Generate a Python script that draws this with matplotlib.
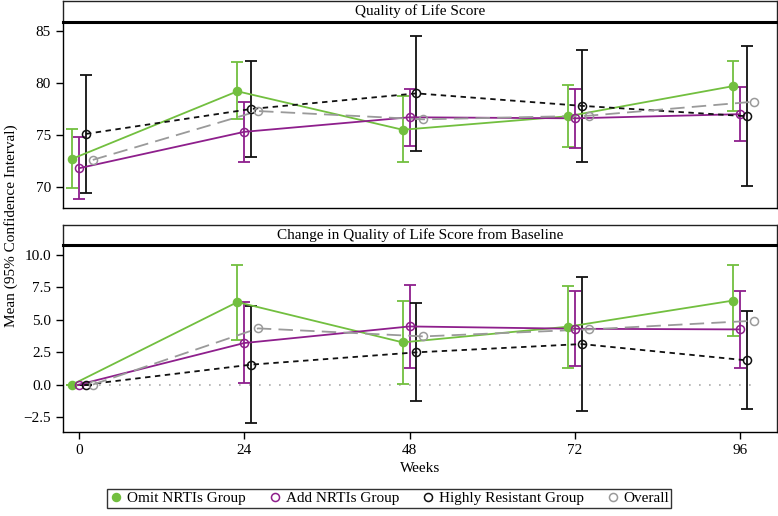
import numpy as np
import matplotlib.pyplot as plt
from matplotlib.lines import Line2D

plt.rcParams['font.family'] = ['Liberation Serif', 'DejaVu Serif']

weeks = [0, 24, 48, 72, 96]
groups = ['Omit NRTIs Group', 'Add NRTIs Group', 'Highly Resistant Group', 'Overall']

# Quality of Life Score: mean, lower CI, upper CI
qol_omit = [72.7, 79.2, 75.5, 76.8, 79.7]
qol_omit_lo = [69.9, 76.5, 72.4, 73.8, 77.3]
qol_omit_hi = [75.6, 82.0, 78.7, 79.8, 82.1]

qol_add = [71.8, 75.3, 76.7, 76.6, 77.0]
qol_add_lo = [68.8, 72.4, 73.9, 73.7, 74.4]
qol_add_hi = [74.8, 78.2, 79.4, 79.4, 79.6]

qol_hr = [75.1, 77.5, 79.0, 77.8, 76.8]
qol_hr_lo = [69.4, 72.9, 73.5, 72.4, 70.1]
qol_hr_hi = [80.8, 82.1, 84.5, 83.2, 83.6]

qol_all = [72.6, 77.3, 76.5, 76.85, 78.2]

# Change from baseline
chg_omit = [0.0, 6.37, 3.26, 4.47, 6.49]
chg_omit_lo = [0.0, 3.44, 0.05, 1.31, 3.72]
chg_omit_hi = [0.0, 9.26, 6.49, 7.62, 9.24]

chg_add = [0.0, 3.21, 4.49, 4.31, 4.26]
chg_add_lo = [0.0, 0.13, 1.26, 1.41, 1.31]
chg_add_hi = [0.0, 6.34, 7.70, 7.24, 7.21]

chg_hr = [0.0, 1.54, 2.49, 3.13, 1.87]
chg_hr_lo = [0.0, -2.95, -1.28, -2.03, -1.92]
chg_hr_hi = [0.0, 6.10, 6.31, 8.29, 5.67]

chg_all = [0.0, 4.34, 3.72, 4.26, 4.93]

green = '#72BF3F'
purple = '#8E1F8C'
black = '#111111'
grey = '#9A9A9A'

fig = plt.figure(figsize=(7.78, 5.16), dpi=100)
left, width = 0.0806, 0.9185
ax1 = fig.add_axes([left, 0.5975, width, 0.3605])
s1 = fig.add_axes([left, 0.958, width, 0.040])
ax2 = fig.add_axes([left, 0.1628, width, 0.3622])
s2 = fig.add_axes([left, 0.525, width, 0.039])

for s, title in [(s1, 'Quality of Life Score'),
                 (s2, 'Change in Quality of Life Score from Baseline')]:
    s.set_xticks([])
    s.set_yticks([])
    for sp in s.spines.values():
        sp.set_color('#222222')
        sp.set_linewidth(1.0)
    s.spines['bottom'].set_linewidth(2.2)
    s.spines['bottom'].set_color('black')
    s.text(0.5, 0.5, title, ha='center', va='center', fontsize=11,
           transform=s.transAxes)


def draw(ax, series):
    w = np.array(weeks, dtype=float)
    for off, m, lo, hi, color, ls, mfc in series:
        x = w + off
        ax.plot(x, m, color=color, ls=ls, lw=1.3, zorder=3)
        if lo is not None:
            yerr = [np.array(m) - np.array(lo), np.array(hi) - np.array(m)]
            ax.errorbar(x, m, yerr=yerr, fmt='none', ecolor=color,
                        elinewidth=1.3, capsize=4, capthick=1.3, zorder=2)
        ax.plot(x, m, ls='none', marker='o', ms=5.8, mfc=mfc,
                mec=color, mew=1.1, zorder=4)


ax1_series = [
    (-1, qol_omit, qol_omit_lo, qol_omit_hi, green, '-', green),
    (0, qol_add, qol_add_lo, qol_add_hi, purple, '-', 'none'),
    (1, qol_hr, qol_hr_lo, qol_hr_hi, black, (0, (3, 2.5)), 'none'),
    (2, qol_all, None, None, grey, (0, (8, 4)), 'none'),
]
ax2_series = [
    (-1, chg_omit, chg_omit_lo, chg_omit_hi, green, '-', green),
    (0, chg_add, chg_add_lo, chg_add_hi, purple, '-', 'none'),
    (1, chg_hr, chg_hr_lo, chg_hr_hi, black, (0, (3, 2.5)), 'none'),
    (2, chg_all, None, None, grey, (0, (8, 4)), 'none'),
]

ax2.plot([0, 98], [0, 0], color='#AAAAAA', ls=(0, (1, 5)), lw=1.2, zorder=1)
draw(ax1, ax1_series)
draw(ax2, ax2_series)

for ax in (ax1, ax2):
    ax.set_xlim(-2.37, 101.4)
    for sp in ax.spines.values():
        sp.set_color('#222222')
        sp.set_linewidth(1.0)
    ax.spines['left'].set_color('black')
    ax.spines['bottom'].set_color('black')
    ax.tick_params(direction='out', length=5, width=1, labelsize=11,
                   colors='black')

ax1.set_ylim(68.0, 85.9)
ax1.set_yticks([70, 75, 80, 85])
ax1.set_xticks([])

ax2.set_ylim(-3.66, 10.77)
ax2.set_yticks([-2.5, 0.0, 2.5, 5.0, 7.5, 10.0])
ax2.set_yticklabels(['\u22122.5', '0.0', '2.5', '5.0', '7.5', '10.0'])
ax2.set_xticks(weeks)
ax2.set_xlabel('Weeks', fontsize=11, labelpad=4)

fig.text(0.014, 0.562, 'Mean (95% Confidence Interval)', rotation=90,
         ha='center', va='center', fontsize=11)

handles = [
    Line2D([], [], ls='none', marker='o', ms=5.8, mfc=green, mec=green),
    Line2D([], [], ls='none', marker='o', ms=5.8, mfc='none', mec=purple, mew=1.1),
    Line2D([], [], ls='none', marker='o', ms=5.8, mfc='none', mec=black, mew=1.1),
    Line2D([], [], ls='none', marker='o', ms=5.8, mfc='none', mec=grey, mew=1.1),
]
leg = fig.legend(handles, groups, loc='center', bbox_to_anchor=(0.5, 0.034),
                 ncol=4, frameon=True, fancybox=False, fontsize=11,
                 handletextpad=0.2, columnspacing=1.4, borderpad=0.15,
                 handlelength=1.0, borderaxespad=0)
leg.get_frame().set_edgecolor('black')
leg.get_frame().set_linewidth(1.0)

fig.savefig('out.png', dpi=100)
